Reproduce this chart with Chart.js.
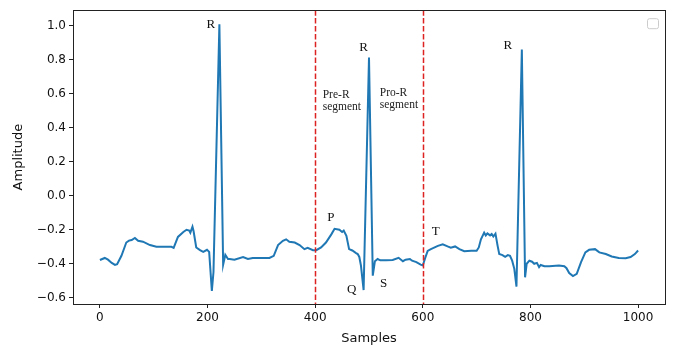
<!DOCTYPE html>
<html>
<head>
<meta charset="utf-8">
<script src="https://cdn.jsdelivr.net/npm/chart.js@4.4.0/dist/chart.umd.min.js"></script>
<style>
  html, body { margin: 0; padding: 0; background: #fff; }
  #wrap { width: 678px; height: 347px; }
</style>
</head>
<body>
<div id="wrap"><canvas id="ecgChart"></canvas></div>
<script>
// signal
const samples = [0, 9, 15, 22, 28, 32, 40, 49, 54, 59, 65, 71, 80, 93, 105, 117, 133, 137, 145, 155,
  161, 166, 168, 172, 174, 179, 186, 192, 199, 203, 208, 211, 222, 229, 233, 238, 241, 250, 266, 275,
  284, 297, 315, 323, 331, 340, 346, 352, 362, 371, 380, 386, 396, 402, 411, 420, 430, 436, 445, 450,
  453, 458, 463, 469, 476, 479, 482, 485, 490, 500, 507, 511, 516, 521, 532, 544, 555, 563, 568, 576,
  580, 588, 596, 600, 604, 609, 615, 628, 637, 646, 652, 660, 668, 677, 690, 700, 704, 708, 714, 717,
  720, 725, 728, 731, 735, 739, 742, 748, 753, 758, 762, 766, 770, 774, 784, 790, 793, 798, 803, 807,
  812, 816, 819, 826, 835, 853, 863, 867, 872, 879, 886, 894, 902, 909, 920, 928, 940, 951, 964, 977,
  986, 994, 1000];
const amplitude = [-0.378, -0.366, -0.376, -0.395, -0.407, -0.403, -0.353, -0.275, -0.264, -0.26, -0.248, -0.265, -0.27, -0.29, -0.30, -0.30, -0.30, -0.306, -0.242, -0.213,
  -0.20, -0.205, -0.217, -0.182, -0.207, -0.304, -0.32, -0.33, -0.318, -0.33, -0.56, -0.45, 1.01, -0.405, -0.347, -0.372, -0.372, -0.376, -0.36, -0.372,
  -0.366, -0.366, -0.366, -0.353, -0.29, -0.265, -0.256, -0.271, -0.275, -0.29, -0.314, -0.306, -0.32, -0.32, -0.304, -0.275, -0.227, -0.194, -0.20, -0.213,
  -0.205, -0.236, -0.314, -0.322, -0.337, -0.343, -0.36, -0.41, -0.555, 0.815, -0.47, -0.385, -0.372, -0.38, -0.38, -0.378, -0.365, -0.385, -0.376, -0.372,
  -0.382, -0.39, -0.405, -0.41, -0.37, -0.324, -0.314, -0.295, -0.285, -0.298, -0.306, -0.298, -0.314, -0.326, -0.324, -0.324, -0.304, -0.256, -0.217, -0.233,
  -0.221, -0.233, -0.225, -0.24, -0.223, -0.295, -0.343, -0.349, -0.359, -0.349, -0.353, -0.382, -0.43, -0.535, 0.862, -0.48, -0.40, -0.382, -0.388, -0.40,
  -0.395, -0.42, -0.407, -0.415, -0.415, -0.41, -0.415, -0.426, -0.455, -0.473, -0.46, -0.39, -0.333, -0.318, -0.314, -0.333, -0.343, -0.357, -0.366, -0.368,
  -0.36, -0.343, -0.322];

const xTicks = [0, 200, 400, 600, 800, 1000];
const yTicks = [-0.6, -0.4, -0.2, 0.0, 0.2, 0.4, 0.6, 0.8, 1.0];

// segment borders (red dashed)
const segmentLines = [400, 600];

// wave labels
const waveText = ['R', 'R', 'R', 'P', 'Q', 'S', 'T'];
const waveX = [206, 490, 758, 429, 468, 527, 624];
const waveY = [1.011, 0.875, 0.883, -0.13, -0.552, -0.514, -0.212];

// segment notes (left aligned, two lines)
const noteText = [['Pre-R', 'segment'], ['Pro-R', 'segment']];
const noteX = [414, 520];
const noteY = [[0.595, 0.525], [0.607, 0.537]];

const minus = s => s.replace('-', '\u2212');

const extrasPlugin = {
  id: 'extras',
  afterDatasetsDraw(chart) {
    const {ctx, chartArea: a, scales: {x, y}} = chart;
    ctx.save();
    // red dashed lines
    ctx.strokeStyle = '#dd2222';
    ctx.lineWidth = 1.5;
    ctx.setLineDash([5.5, 2.4]);
    segmentLines.forEach(v => {
      const px = Math.round(x.getPixelForValue(v)) + 0.5;
      ctx.beginPath();
      ctx.moveTo(px, a.top);
      ctx.lineTo(px, a.bottom);
      ctx.stroke();
    });
    ctx.setLineDash([]);

    // labels
    ctx.fillStyle = '#111';
    ctx.textAlign = 'center';
    ctx.textBaseline = 'middle';
    ctx.font = '13px "Liberation Serif"';
    waveText.forEach((t, i) => {
      ctx.fillText(t, x.getPixelForValue(waveX[i]), y.getPixelForValue(waveY[i]));
    });
    ctx.textAlign = 'left';
    ctx.fillStyle = '#222';
    ctx.font = '11.5px "Liberation Serif"';
    noteText.forEach((lines, i) => {
      lines.forEach((t, j) => {
        ctx.fillText(t, x.getPixelForValue(noteX[i]), y.getPixelForValue(noteY[i][j]));
      });
    });

    // frame
    ctx.strokeStyle = '#222';
    ctx.lineWidth = 1;
    ctx.strokeRect(Math.round(a.left) + 0.5, Math.round(a.top) + 0.5,
      Math.round(a.right - a.left), Math.round(a.bottom - a.top));

    // empty legend box
    ctx.strokeStyle = '#cccccc';
    ctx.fillStyle = 'rgba(255,255,255,0.8)';
    ctx.beginPath();
    ctx.roundRect(a.right - 17.5, a.top + 8.5, 11, 10, 2);
    ctx.fill();
    ctx.stroke();
    ctx.restore();
  }
};

new Chart(document.getElementById('ecgChart'), {
  type: 'line',
  data: {
    datasets: [{
      data: samples.map((s, i) => ({x: s, y: amplitude[i]})),
      borderColor: '#1f77b4',
      borderWidth: 2,
      pointRadius: 0,
      tension: 0,
      fill: false
    }]
  },
  options: {
    responsive: true,
    maintainAspectRatio: false,
    animation: false,
    layout: { padding: { left: 0, top: 7, right: 13, bottom: 0 } },
    plugins: { legend: { display: false }, tooltip: { enabled: false } },
    scales: {
      x: {
        type: 'linear',
        min: -50,
        max: 1050,
        afterFit: s => { s.height = 43; },
        afterBuildTicks: s => { s.ticks = xTicks.map(v => ({value: v})); },
        grid: { drawOnChartArea: false, drawTicks: true, tickLength: 4, color: '#222' },
        border: { display: true, color: '#222' },
        ticks: {
          color: '#111', padding: 3, maxRotation: 0,
          font: { family: 'DejaVu Sans', size: 12 },
          callback: v => String(v)
        },
        title: {
          display: true, text: 'Samples', color: '#111',
          font: { family: 'DejaVu Sans', size: 13 },
          padding: { top: 0, bottom: 1 }
        }
      },
      y: {
        min: -0.637,
        max: 1.093,
        afterFit: s => { s.width = 73; },
        afterBuildTicks: s => { s.ticks = yTicks.map(v => ({value: v})); },
        grid: { drawOnChartArea: false, drawTicks: true, tickLength: 4, color: '#222' },
        border: { display: true, color: '#222' },
        ticks: {
          color: '#111', padding: 3,
          font: { family: 'DejaVu Sans', size: 12 },
          callback: v => minus(v.toFixed(1))
        },
        title: {
          display: true, text: 'Amplitude', color: '#111',
          font: { family: 'DejaVu Sans', size: 13 },
          padding: { top: 11, bottom: 0 }
        }
      }
    }
  },
  plugins: [extrasPlugin]
});
</script>
</body>
</html>
